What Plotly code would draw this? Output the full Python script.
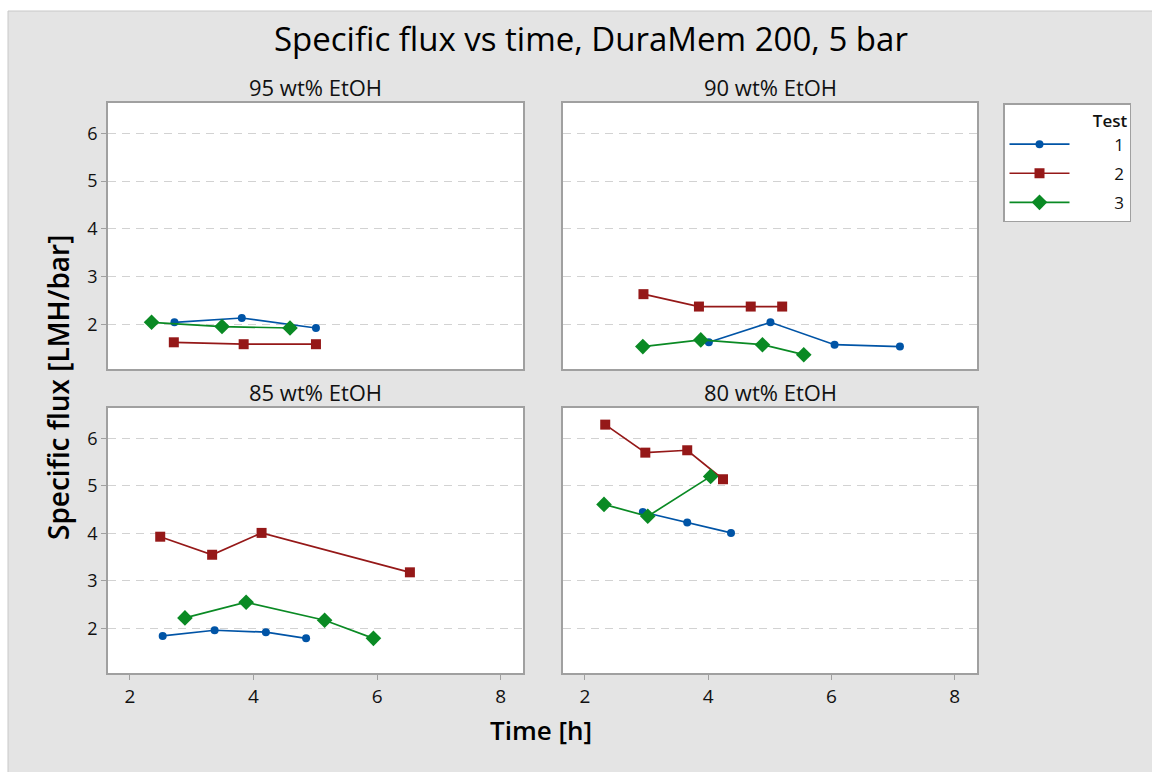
import plotly.graph_objects as go

# ---------------- data ----------------
panels = ["95 wt% EtOH", "90 wt% EtOH", "85 wt% EtOH", "80 wt% EtOH"]
tests = ["1", "2", "3"]

# 95 wt% EtOH
t95_1 = [2.72, 3.81, 5.01]
f95_1 = [2.04, 2.13, 1.92]
t95_2 = [2.71, 3.84, 5.01]
f95_2 = [1.62, 1.58, 1.58]
t95_3 = [2.35, 3.49, 4.59]
f95_3 = [2.04, 1.95, 1.92]

# 90 wt% EtOH
t90_1 = [4.01, 5.01, 6.05, 7.11]
f90_1 = [1.62, 2.04, 1.57, 1.53]
t90_2 = [2.95, 3.85, 4.69, 5.20]
f90_2 = [2.63, 2.37, 2.37, 2.37]
t90_3 = [2.94, 3.88, 4.88, 5.55]
f90_3 = [1.53, 1.67, 1.57, 1.36]

# 85 wt% EtOH
t85_1 = [2.53, 3.37, 4.20, 4.85]
f85_1 = [1.84, 1.96, 1.92, 1.79]
t85_2 = [2.49, 3.33, 4.13, 6.53]
f85_2 = [3.93, 3.55, 4.01, 3.18]
t85_3 = [2.89, 3.88, 5.15, 5.94]
f85_3 = [2.22, 2.55, 2.17, 1.79]

# 80 wt% EtOH
t80_1 = [2.94, 3.66, 4.37]
f80_1 = [4.45, 4.23, 4.01]
t80_2 = [2.33, 2.98, 3.66, 4.24]
f80_2 = [6.29, 5.70, 5.75, 5.14]
t80_3 = [2.31, 3.02, 4.04]
f80_3 = [4.61, 4.36, 5.20]

panel_data = [
    [(t95_1, f95_1), (t95_2, f95_2), (t95_3, f95_3)],
    [(t90_1, f90_1), (t90_2, f90_2), (t90_3, f90_3)],
    [(t85_1, f85_1), (t85_2, f85_2), (t85_3, f85_3)],
    [(t80_1, f80_1), (t80_2, f80_2), (t80_3, f80_3)],
]

x_ticks = [2, 4, 6, 8]
y_ticks = [2, 3, 4, 5, 6]

# ---------------- styles ----------------
colors = ["#0054A6", "#951818", "#0A8A24"]
symbols = ["circle", "square", "diamond"]
msizes = [8, 10, 12]
FONT = "Open Sans, Noto Sans, DejaVu Sans, sans-serif"
W, H = 1152, 772
PAD = "\u00a0" * 9

fig = go.Figure()

for p, series in enumerate(panel_data):
    ax = "" if p == 0 else str(p + 1)
    for i, (tx, fy) in enumerate(series):
        fig.add_trace(go.Scatter(
            x=tx, y=fy, mode="lines+markers",
            name=PAD + tests[i], legendgroup=tests[i], showlegend=(p == 0),
            line=dict(color=colors[i], width=1.7),
            marker=dict(color=colors[i], symbol=symbols[i], size=msizes[i]),
            xaxis="x" + ax, yaxis="y" + ax,
        ))

# domains (pixels -> paper)
xd = [[108 / W, 523 / W], [563 / W, 977 / W]]
yd = [[1 - 369 / H, 1 - 103 / H], [1 - 673 / H, 1 - 408 / H]]

common_x = dict(range=[1.645, 8.36], tickvals=x_ticks, showgrid=False, zeroline=False,
                showline=True, mirror=True, linecolor="#A0A0A0", linewidth=1.5,
                tickfont=dict(family=FONT, size=19, color="#111"),
                ticks="outside", ticklen=5, tickcolor="#A0A0A0")
common_y = dict(range=[1.06, 6.64], tickvals=y_ticks, showgrid=True, gridcolor="#D2D2D2",
                griddash="8px,6px", gridwidth=1.4, zeroline=False,
                showline=True, mirror=True, linecolor="#A0A0A0", linewidth=1.5,
                tickfont=dict(family=FONT, size=18, color="#111"),
                ticks="outside", ticklen=5, tickcolor="#A0A0A0")

layout = {}
for p in range(4):
    r, c = divmod(p, 2)
    ax = "" if p == 0 else str(p + 1)
    xa = dict(common_x, domain=xd[c], anchor="y" + ax)
    ya = dict(common_y, domain=yd[r], anchor="x" + ax)
    if r == 0:
        xa.update(showticklabels=False, ticks="")
    if c == 1:
        ya.update(showticklabels=False, ticks="")
    layout["xaxis" + ax] = xa
    layout["yaxis" + ax] = ya
fig.update_layout(**layout)

annotations = []
title_y = [1 - 87 / H, 1 - 392 / H]
for p, name in enumerate(panels):
    r, c = divmod(p, 2)
    annotations.append(dict(text=name, x=(xd[c][0] + xd[c][1]) / 2, y=title_y[r],
                            xref="paper", yref="paper", showarrow=False,
                            xanchor="center", yanchor="middle",
                            font=dict(family=FONT, size=22, color="#111")))
annotations.append(dict(text="Specific flux vs time, DuraMem 200, 5 bar", x=591 / W, y=1 - 39 / H,
                        xref="paper", yref="paper", showarrow=False, xanchor="center", yanchor="middle",
                        font=dict(family=FONT, size=33, color="#000")))
annotations.append(dict(text="Time [h]", x=541 / W, y=1 - 730 / H,
                        xref="paper", yref="paper", showarrow=False, xanchor="center", yanchor="middle",
                        font=dict(family=FONT, size=26, color="#000", weight=600)))
annotations.append(dict(text="Specific flux [LMH/bar]", x=58 / W, y=1 - 388 / H, textangle=-90,
                        xref="paper", yref="paper", showarrow=False, xanchor="center", yanchor="middle",
                        font=dict(family=FONT, size=28, color="#000", weight=600)))

shapes = [
    dict(type="rect", xref="paper", yref="paper", x0=0, x1=1, y0=1 - 11 / H, y1=1,
         fillcolor="white", line=dict(width=0)),
    dict(type="rect", xref="paper", yref="paper", x0=0, x1=8 / W, y0=0, y1=1,
         fillcolor="white", line=dict(width=0)),
    dict(type="line", xref="paper", yref="paper", x0=8 / W, x1=1, y0=1 - 11 / H, y1=1 - 11 / H,
         line=dict(color="#C8C8C8", width=1)),
    dict(type="line", xref="paper", yref="paper", x0=8 / W, x1=8 / W, y0=0, y1=1 - 11 / H,
         line=dict(color="#C8C8C8", width=1)),
]

fig.update_layout(
    width=W, height=H, margin=dict(l=0, r=0, t=0, b=0),
    paper_bgcolor="#E4E4E4", plot_bgcolor="white",
    annotations=annotations, shapes=shapes,
    showlegend=True,
    legend=dict(x=1003 / W, y=1 - 103 / H, xanchor="left", yanchor="top",
                bgcolor="white", bordercolor="#A0A0A0", borderwidth=1.5,
                title=dict(text="Test", side="top right",
                           font=dict(family=FONT, size=17, color="#111", weight=600)),
                font=dict(family=FONT, size=17, color="#111"),
                itemwidth=60, tracegroupgap=4),
)

fig.write_html("out.html")
